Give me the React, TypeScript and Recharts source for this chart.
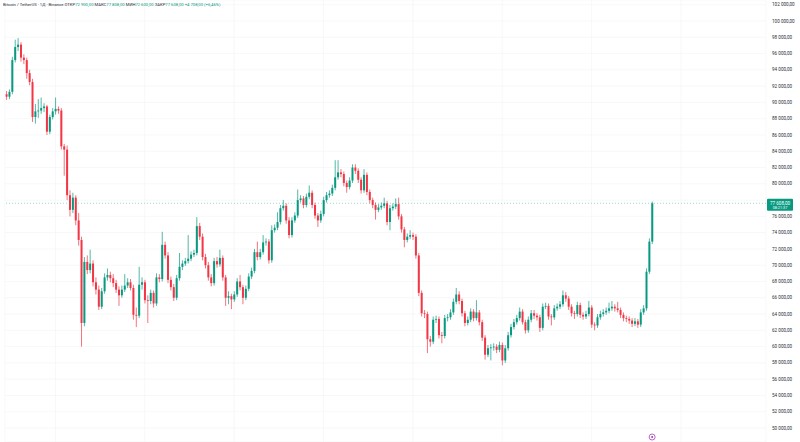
import React from 'react';
import {
  Bar,
  CartesianGrid,
  ComposedChart,
  ReferenceDot,
  ReferenceLine,
  XAxis,
  YAxis,
} from 'recharts';

// BTC/USDT daily candles, prices in thousands of USDT
const firstOpen = 91.0;

const closes = [
  90.7, 91.3, 95.2, 96.8, 97.1, 95.5, 95.2, 93.6, 92.5, 88.2,
  88.9, 89.0, 89.3, 89.5, 86.4, 88.2, 88.9, 89.2, 89.0, 84.6,
  84.2, 78.6, 76.8, 78.3, 75.5, 73.1, 62.9, 70.4, 69.4, 70.2,
  67.9, 67.0, 64.9, 66.8, 68.5, 68.8, 68.4, 67.8, 67.0, 66.3,
  67.0, 67.5, 67.9, 67.2, 63.9, 63.8, 67.6, 67.9, 65.7, 65.6,
  66.6, 65.3, 68.5, 68.3, 72.5, 71.2, 68.2, 67.3, 66.0, 68.4,
  69.8, 70.2, 70.5, 70.8, 71.3, 71.5, 74.8, 73.5, 71.0, 70.0,
  68.5, 67.8, 70.5, 70.1, 70.9, 68.5, 66.0, 66.2, 65.8, 66.4,
  68.0, 67.3, 66.0, 67.1, 68.6, 69.3, 71.6, 71.0, 71.6, 72.8,
  72.9, 70.6, 74.3, 74.6, 75.3, 77.0, 77.3, 75.5, 73.7, 75.5,
  76.1, 78.0, 78.2, 77.4, 78.4, 78.9, 77.4, 76.1, 75.5, 76.3,
  78.0, 78.6, 78.8, 79.5, 80.8, 81.4, 81.2, 80.1, 79.6, 80.4,
  82.0, 81.6, 80.5, 79.2, 81.1, 79.0, 78.0, 77.4, 76.8, 77.1,
  77.3, 77.6, 75.3, 77.0, 77.2, 77.5, 76.0, 74.4, 73.1, 73.5,
  73.7, 73.5, 71.2, 66.6, 64.1, 64.0, 60.9, 60.6, 63.3, 63.4,
  61.4, 61.3, 63.5, 63.6, 64.2, 65.5, 66.4, 65.6, 64.1, 62.9,
  63.3, 64.3, 63.5, 64.2, 63.0, 61.1, 59.0, 59.8, 59.9, 60.0,
  59.6, 60.2, 58.3, 59.8, 61.4, 62.4, 63.0, 63.5, 64.3, 63.0,
  62.0, 63.3, 64.1, 63.8, 63.6, 62.3, 64.9, 65.0, 63.7, 63.6,
  64.7, 64.9, 65.2, 66.3, 65.9, 64.9, 64.1, 64.0, 65.1, 63.9,
  63.7, 64.0, 64.8, 62.7, 62.6, 63.6, 64.0, 64.2, 64.4, 64.7,
  64.9, 64.7, 64.5, 63.9, 63.5, 63.4, 63.2, 62.8, 63.1, 62.7,
  64.2, 64.7, 69.2, 72.9, 77.608,
];

const highs = [
  91.4, 91.6, 95.6, 97.7, 97.9, 97.4, 95.9, 95.5, 94.0, 92.9,
  89.8, 90.4, 90.6, 89.9, 89.7, 88.5, 89.3, 90.6, 89.5, 89.3,
  84.9, 84.7, 79.2, 78.9, 78.6, 76.4, 73.5, 71.0, 71.2, 71.9,
  70.6, 68.5, 67.5, 67.2, 69.0, 69.6, 69.2, 68.9, 68.2, 67.4,
  67.5, 68.9, 68.4, 68.3, 67.6, 64.8, 69.8, 68.5, 68.2, 66.3,
  67.0, 66.9, 69.0, 68.9, 74.1, 72.9, 71.6, 68.6, 67.7, 68.8,
  71.5, 70.6, 70.9, 73.7, 71.7, 71.9, 75.9, 75.2, 73.9, 71.4,
  70.4, 68.9, 70.9, 71.0, 71.9, 71.2, 68.8, 66.8, 66.5, 66.8,
  68.4, 68.8, 67.6, 67.5, 69.0, 69.7, 72.0, 72.9, 72.0, 73.7,
  73.3, 73.2, 74.9, 75.0, 76.5, 77.4, 78.0, 77.6, 75.9, 75.9,
  76.5, 79.3, 78.6, 78.5, 78.8, 79.8, 79.2, 77.7, 76.4, 76.7,
  78.4, 79.0, 79.2, 79.9, 82.9, 82.9, 81.8, 81.5, 80.4, 80.8,
  82.4, 82.4, 81.9, 80.8, 81.8, 81.4, 79.3, 78.3, 77.7, 77.5,
  77.7, 78.3, 77.9, 77.4, 77.6, 78.2, 78.3, 76.3, 74.7, 73.9,
  74.3, 74.0, 73.8, 71.5, 66.9, 64.5, 64.3, 61.3, 63.7, 63.8,
  63.7, 61.8, 63.9, 64.0, 64.6, 65.9, 67.2, 66.8, 65.9, 64.4,
  63.7, 64.7, 64.6, 65.7, 64.5, 63.3, 61.4, 60.2, 60.3, 60.4,
  60.3, 60.6, 60.5, 60.2, 61.8, 62.8, 63.4, 63.9, 64.8, 64.6,
  63.3, 63.7, 64.5, 64.5, 64.1, 63.9, 65.3, 65.4, 65.3, 64.0,
  65.1, 65.3, 65.6, 66.9, 66.7, 66.2, 65.2, 64.4, 65.5, 65.4,
  64.2, 64.4, 65.6, 65.1, 63.0, 64.0, 64.4, 64.6, 64.8, 65.4,
  65.6, 65.2, 65.5, 64.8, 64.2, 63.8, 63.7, 63.5, 63.5, 63.4,
  64.6, 65.1, 69.6, 73.3, 77.808,
];

const lows = [
  90.3, 90.4, 91.0, 94.9, 96.3, 95.0, 94.7, 92.9, 92.1, 87.6,
  87.4, 88.1, 88.6, 88.8, 86.0, 86.1, 87.9, 88.5, 88.6, 84.2,
  81.0, 78.0, 76.0, 76.4, 74.9, 72.4, 60.0, 62.5, 68.9, 69.0,
  67.4, 66.4, 64.5, 64.6, 66.5, 68.1, 67.9, 67.3, 66.6, 65.0,
  66.0, 66.7, 67.2, 66.9, 63.3, 62.4, 63.5, 67.0, 65.3, 62.9,
  65.2, 64.8, 65.0, 67.9, 68.0, 70.8, 67.8, 66.9, 65.6, 65.7,
  68.1, 69.4, 69.9, 70.2, 70.5, 71.0, 71.2, 73.1, 70.6, 69.6,
  68.1, 67.4, 67.5, 69.7, 69.8, 68.1, 65.0, 65.2, 64.6, 65.5,
  66.1, 66.9, 65.2, 65.7, 66.8, 68.3, 69.0, 70.6, 70.7, 71.3,
  72.4, 70.2, 70.3, 74.0, 74.3, 75.0, 76.7, 75.1, 73.3, 73.4,
  75.2, 75.8, 77.7, 77.0, 77.1, 78.1, 77.0, 75.7, 74.7, 75.2,
  76.0, 77.7, 78.3, 78.5, 79.2, 80.5, 80.8, 79.7, 78.9, 79.3,
  80.1, 81.2, 80.1, 78.8, 78.9, 78.6, 77.6, 77.0, 75.6, 76.5,
  76.8, 77.0, 74.9, 74.3, 76.7, 76.9, 75.6, 74.0, 72.2, 72.8,
  73.2, 73.1, 70.8, 66.2, 63.7, 63.5, 59.2, 60.0, 60.3, 62.9,
  61.0, 60.4, 61.0, 63.1, 63.3, 63.9, 65.2, 65.2, 63.7, 62.5,
  62.6, 63.0, 63.1, 63.2, 62.6, 60.7, 58.4, 58.7, 58.3, 59.5,
  59.2, 59.3, 57.7, 58.0, 59.5, 61.1, 62.1, 62.7, 63.2, 62.7,
  61.6, 61.7, 63.0, 63.4, 63.2, 61.8, 62.0, 64.6, 63.3, 62.6,
  63.3, 64.4, 64.6, 64.9, 65.5, 64.5, 63.7, 63.4, 63.7, 63.5,
  63.3, 63.4, 63.7, 62.3, 62.0, 62.3, 63.3, 63.7, 63.9, 64.1,
  64.4, 64.3, 64.2, 63.5, 63.1, 63.0, 62.8, 62.4, 62.5, 62.3,
  62.4, 63.9, 64.4, 68.9, 72.6,
];

// empty days to the right of the last candle
const futureDays = 39;
// indices where month separators fall
const monthStarts = [17, 48, 79, 110, 141, 172, 203, 234];

const priceTicks = [
  50, 52, 54, 56, 58, 60, 62, 64, 66, 68, 70, 72, 74, 76, 78,
  80, 82, 84, 86, 88, 90, 92, 94, 96, 98, 100, 102,
];

const UP = '#089981';
const DOWN = '#f23645';
const TEXT = '#2a2e39';
const FONT = 'Roboto, "Liberation Sans", sans-serif';

const data = [
  ...closes.map((close, i) => {
    const open = i === 0 ? firstOpen : closes[i - 1];
    const high = Math.max(highs[i], open, close);
    const low = Math.min(lows[i], open, close);
    return { i, open, close, high, low, range: [low, high] };
  }),
  ...Array.from({ length: futureDays }, (_, k) => ({ i: closes.length + k, range: null })),
];

const last = data[closes.length - 1] as any;

function fmtPrice(v: number) {
  const n = Math.round(v * 1000).toString().replace(/\B(?=(\d{3})+(?!\d))/g, ' ');
  return n + ',00';
}

function Candle(props: any) {
  const { x, y, width, height, payload } = props;
  if (!payload || payload.high == null) return null;
  const { open, close, high, low } = payload;
  const top = Math.min(y, y + height);
  const h = Math.abs(height);
  const span = high - low || 1;
  const color = close >= open ? UP : DOWN;
  const bodyTop = top + ((high - Math.max(open, close)) / span) * h;
  const bodyH = Math.max((Math.abs(close - open) / span) * h, 0.8);
  const cx = x + width / 2;
  return (
    <g>
      <line x1={cx} x2={cx} y1={top} y2={top + h} stroke={color} strokeWidth={0.7} />
      <rect x={x} y={bodyTop} width={width} height={bodyH} fill={color} />
    </g>
  );
}

// price labels; the one under the last-price tag is hidden like on TradingView
function PriceTick(props: any) {
  const { x, y, payload } = props;
  if (Math.abs(payload.value - last.close) < 1) return null;
  return (
    <text x={x} y={y} dy={1.6} fontSize={4.6} fill={TEXT} fontFamily={FONT} textAnchor="start">
      {fmtPrice(payload.value)}
    </text>
  );
}

function PriceTag(props: any) {
  const vb = props.viewBox || {};
  const left = vb.x + vb.width + 1;
  const y = vb.y;
  return (
    <g>
      <rect x={left} y={y - 4.5} width={26} height={12} rx={1} fill={UP} />
      <text x={left + 13} y={y + 1.6} textAnchor="middle" fontSize={4.6} fill="#fff" fontFamily={FONT}>
        {fmtPrice(last.close)}
      </text>
      <text x={left + 13} y={y + 6.2} textAnchor="middle" fontSize={3.8} fill="#fff" fontFamily={FONT}>
        08:21:37
      </text>
    </g>
  );
}

function EventMark(props: any) {
  const { cx } = props;
  return (
    <g>
      <circle cx={cx} cy={437} r={3} fill="#fff" stroke="#9c27b0" strokeWidth={0.7} />
      <circle cx={cx} cy={437} r={0.9} fill="#9c27b0" />
    </g>
  );
}

export default function App() {
  return (
    <div style={{ position: 'relative', width: 800, height: 442, background: '#fff' }}>
      <style>{'body{margin:0}'}</style>
      <ComposedChart
        width={800}
        height={442}
        data={data}
        margin={{ top: 0, right: 0, bottom: 0, left: 5 }}
        barCategoryGap="20%"
      >
        <CartesianGrid stroke="#f2f3f6" strokeWidth={0.6} />
        <XAxis dataKey="i" type="category" hide ticks={monthStarts} interval={0} />
        <YAxis
          orientation="right"
          width={34}
          domain={[48.28, 102.58]}
          ticks={priceTicks}
          interval={0}
          axisLine={false}
          tickLine={false}
          tickSize={4}
          tickMargin={2}
          tick={<PriceTick />}
        />
        <ReferenceLine
          y={last.close}
          stroke={UP}
          strokeOpacity={0.55}
          strokeWidth={0.7}
          strokeDasharray="1 2"
          label={<PriceTag />}
        />
        <Bar dataKey="range" shape={<Candle />} isAnimationActive={false} />
        <ReferenceDot x={last.i} y={50} shape={<EventMark />} />
      </ComposedChart>
      <svg
        width={800}
        height={12}
        style={{ position: 'absolute', left: 0, top: 0 }}
        fontFamily={FONT}
        fontSize={4.2}
      >
        <text x={3} y={6.4}>
          <tspan fill={TEXT}>Bitcoin / TetherUS · 1Д · Binance  </tspan>
          <tspan fill={TEXT}>ОТКР</tspan>
          <tspan fill={UP}>{fmtPrice(last.open)} </tspan>
          <tspan fill={TEXT}>МАКС</tspan>
          <tspan fill={UP}>{fmtPrice(last.high)} </tspan>
          <tspan fill={TEXT}>МИН</tspan>
          <tspan fill={UP}>{fmtPrice(last.low)} </tspan>
          <tspan fill={TEXT}>ЗАКР</tspan>
          <tspan fill={UP}>{fmtPrice(last.close)} </tspan>
          <tspan fill={UP}>+4 708,00 (+6,46%)</tspan>
        </text>
      </svg>
    </div>
  );
}
